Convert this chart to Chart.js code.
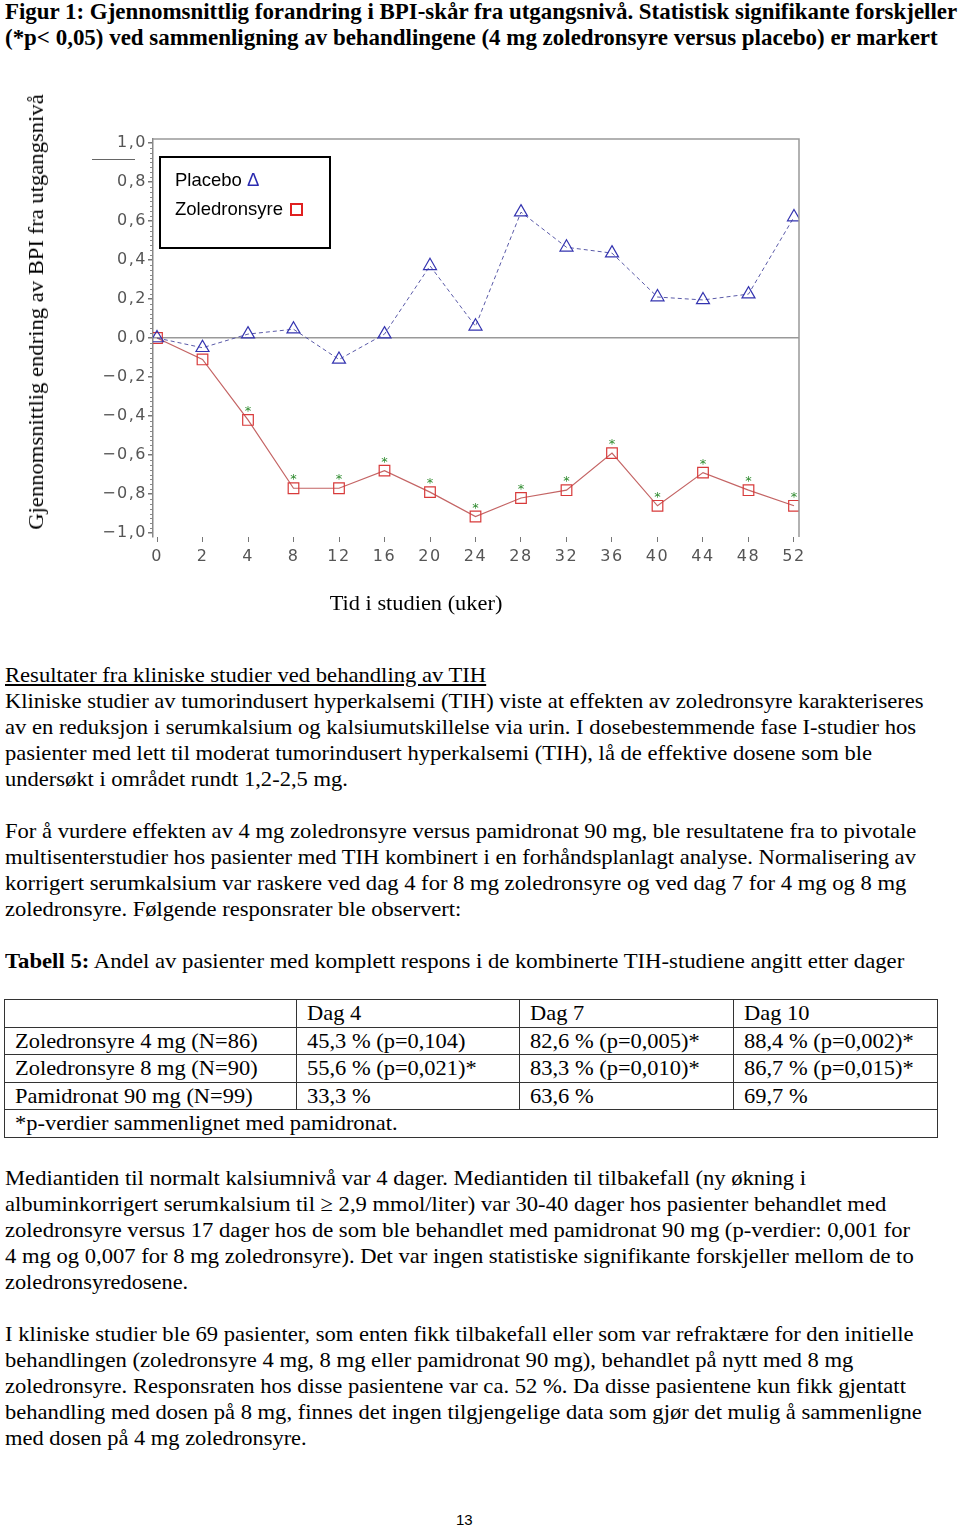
<!DOCTYPE html>
<html>
<head>
<meta charset="utf-8">
<script src="https://cdn.jsdelivr.net/npm/chart.js@4.4.0/dist/chart.umd.min.js"></script>
<style>
body{margin:0;background:#fff;width:960px;height:1529px;position:relative;overflow:hidden;font-family:"Liberation Serif","Times New Roman",serif;color:#000}
.tt{position:absolute;left:5px;white-space:nowrap;font-size:24px;font-weight:bold;line-height:26px;transform-origin:0 50%}
.ln{position:absolute;left:5px;white-space:nowrap;font-size:22px;line-height:26px;transform-origin:0 50%}
#chartBox{position:absolute;left:0;top:60px;width:830px;height:560px}
#legendBox{position:absolute;left:159px;top:156px;width:168px;height:89px;border:2px solid #000;font-family:"Liberation Sans",Arial,sans-serif;font-size:18.5px}
#legendBox div{position:absolute;left:14px;white-space:nowrap;line-height:20px}
.sq{display:inline-block;width:9px;height:9px;border:2px solid #e02020;margin-left:7px;vertical-align:-1px}
.ctr{position:absolute;white-space:nowrap;font-size:22px;line-height:26px}
table{position:absolute;left:4px;top:999px;border-collapse:collapse;font-size:22px}
td{border:1.5px solid #333;height:26.5px;padding:0 0 0 10px;line-height:26px;white-space:nowrap;overflow:hidden}
td span{display:inline-block;transform-origin:0 50%;transform:scaleX(1.02)}
#pg{position:absolute;left:456px;top:1511px;font-family:"Liberation Sans",Arial,sans-serif;font-size:15px}
</style>
</head>
<body>
<div class="tt" style="top:-2px" data-w="952">Figur 1: Gjennomsnittlig forandring i BPI-skår fra utgangsnivå. Statistisk signifikante forskjeller</div>
<div class="tt" style="top:24px" data-w="933">(*p&lt; 0,05) ved sammenligning av behandlingene (4 mg zoledronsyre versus placebo) er markert</div>

<div id="chartBox"><canvas id="bpiChart" width="830" height="560"></canvas></div>
<div style="position:absolute;left:92px;top:159px;width:43px;border-top:1px solid #666"></div>
<div id="legendBox">
  <div style="top:12px">Placebo <span style="color:#2b2bb0">Δ</span></div>
  <div style="top:41px">Zoledronsyre<span class="sq"></span></div>
</div>
<div class="ctr" style="left:36px;top:312px" data-w="435" data-t="translate(-50%,-50%) rotate(-90deg)">Gjennomsnittlig endring av BPI fra utgangsnivå</div>
<div class="ctr" style="left:416px;top:603px" data-w="173" data-t="translate(-50%,-50%)">Tid i studien (uker)</div>

<div class="ln" style="top:662px" data-w="481"><u>Resultater fra kliniske studier ved behandling av TIH</u></div>
<div class="ln" style="top:688px" data-w="919">Kliniske studier av tumorindusert hyperkalsemi (TIH) viste at effekten av zoledronsyre karakteriseres</div>
<div class="ln" style="top:714px" data-w="911">av en reduksjon i serumkalsium og kalsiumutskillelse via urin. I dosebestemmende fase I-studier hos</div>
<div class="ln" style="top:740px" data-w="867">pasienter med lett til moderat tumorindusert hyperkalsemi (TIH), lå de effektive dosene som ble</div>
<div class="ln" style="top:766px" data-w="343">undersøkt i området rundt 1,2-2,5 mg.</div>

<div class="ln" style="top:818px" data-w="911">For å vurdere effekten av 4 mg zoledronsyre versus pamidronat 90 mg, ble resultatene fra to pivotale</div>
<div class="ln" style="top:844px" data-w="911">multisenterstudier hos pasienter med TIH kombinert i en forhåndsplanlagt analyse. Normalisering av</div>
<div class="ln" style="top:870px" data-w="901">korrigert serumkalsium var raskere ved dag 4 for 8 mg zoledronsyre og ved dag 7 for 4 mg og 8 mg</div>
<div class="ln" style="top:896px" data-w="456">zoledronsyre. Følgende responsrater ble observert:</div>

<div class="ln" style="top:948px" data-w="899"><b>Tabell 5:</b> Andel av pasienter med komplett respons i de kombinerte TIH-studiene angitt etter dager</div>

<table>
  <colgroup><col style="width:292px"><col style="width:223px"><col style="width:214px"><col style="width:204px"></colgroup>
  <tr><td></td><td><span>Dag 4</span></td><td><span>Dag 7</span></td><td><span>Dag 10</span></td></tr>
  <tr><td><span>Zoledronsyre 4 mg (N=86)</span></td><td><span>45,3 % (p=0,104)</span></td><td><span>82,6 % (p=0,005)*</span></td><td><span>88,4 % (p=0,002)*</span></td></tr>
  <tr><td><span>Zoledronsyre 8 mg (N=90)</span></td><td><span>55,6 % (p=0,021)*</span></td><td><span>83,3 % (p=0,010)*</span></td><td><span>86,7 % (p=0,015)*</span></td></tr>
  <tr><td><span>Pamidronat 90 mg (N=99)</span></td><td><span>33,3 %</span></td><td><span>63,6 %</span></td><td><span>69,7 %</span></td></tr>
  <tr><td colspan="4"><span>*p-verdier sammenlignet med pamidronat.</span></td></tr>
</table>

<div class="ln" style="top:1165px" data-w="801">Mediantiden til normalt kalsiumnivå var 4 dager. Mediantiden til tilbakefall (ny økning i</div>
<div class="ln" style="top:1191px" data-w="881">albuminkorrigert serumkalsium til ≥ 2,9 mmol/liter) var 30-40 dager hos pasienter behandlet med</div>
<div class="ln" style="top:1217px" data-w="905">zoledronsyre versus 17 dager hos de som ble behandlet med pamidronat 90 mg (p-verdier: 0,001 for</div>
<div class="ln" style="top:1243px" data-w="909">4 mg og 0,007 for 8 mg zoledronsyre). Det var ingen statistiske signifikante forskjeller mellom de to</div>
<div class="ln" style="top:1269px" data-w="183">zoledronsyredosene.</div>

<div class="ln" style="top:1321px" data-w="909">I kliniske studier ble 69 pasienter, som enten fikk tilbakefall eller som var refraktære for den initielle</div>
<div class="ln" style="top:1347px" data-w="848">behandlingen (zoledronsyre 4 mg, 8 mg eller pamidronat 90 mg), behandlet på nytt med 8 mg</div>
<div class="ln" style="top:1373px" data-w="901">zoledronsyre. Responsraten hos disse pasientene var ca. 52 %. Da disse pasientene kun fikk gjentatt</div>
<div class="ln" style="top:1399px" data-w="917">behandling med dosen på 8 mg, finnes det ingen tilgjengelige data som gjør det mulig å sammenligne</div>
<div class="ln" style="top:1425px" data-w="302">med dosen på 4 mg zoledronsyre.</div>

<div id="pg">13</div>

<script>
let weeks = ["0", "2", "4", "8", "12", "16", "20", "24", "28", "32", "36", "40", "44", "48", "52"]
let placebo = [0, -0.05, 0.02, 0.045, -0.11, 0.02, 0.37, 0.06, 0.645, 0.465, 0.435, 0.21, 0.195, 0.225, 0.62]
let zoledronsyre = [0, -0.11, -0.42, -0.77, -0.77, -0.68, -0.79, -0.915, -0.82, -0.78, -0.59, -0.86, -0.69, -0.78, -0.86]
// * = p < 0,05 vs placebo
let significant = [false, false, true, true, true, true, true, true, true, true, true, true, true, true, true]
let yTicks = [-1, -0.8, -0.6, -0.4, -0.2, 0, 0.2, 0.4, 0.6, 0.8, 1]

// squeeze text lines to the widths in the scan
document.querySelectorAll("[data-w]").forEach(el => {
  let k = el.dataset.w / el.offsetWidth
  el.style.transform = (el.dataset.t || "") + " scaleX(" + k + ")"
})

function fmt(v) {
  let s = Math.abs(v).toFixed(1).replace(".", ",")
  return v < -0.001 ? "\u2212" + s : s
}

let framePlugin = {
  id: "frame",
  beforeDraw(chart) {
    chart.ctx.letterSpacing = "1.5px"
  },
  afterDraw(chart) {
    let a = chart.chartArea, ctx = chart.ctx
    let ys = chart.scales.y
    ctx.letterSpacing = "0px"
    ctx.save()
    ctx.strokeStyle = "#999"
    ctx.lineWidth = 1.5
    ctx.beginPath()
    ctx.moveTo(a.left, a.top)
    ctx.lineTo(a.right, a.top)
    ctx.lineTo(a.right, a.bottom)
    ctx.stroke()
    // minor ticks on the y axis
    ctx.strokeStyle = "#888"
    ctx.lineWidth = 1
    ctx.beginPath()
    for (let i = -40; i <= 40; i++) {
      if (i % 8 === 0) continue
      let py = Math.round(ys.getPixelForValue(i * 0.025)) + 0.5
      ctx.moveTo(a.left - 3, py)
      ctx.lineTo(a.left, py)
    }
    ctx.stroke()
    ctx.restore()
  }
}

let starPlugin = {
  id: "stars",
  afterDatasetsDraw(chart) {
    let ctx = chart.ctx
    let meta = chart.getDatasetMeta(1)
    ctx.save()
    ctx.letterSpacing = "0px"
    ctx.fillStyle = "#2e8b2e"
    ctx.font = "13px 'DejaVu Sans'"
    ctx.textAlign = "center"
    ctx.textBaseline = "alphabetic"
    meta.data.forEach((pt, i) => {
      if (significant[i]) ctx.fillText("*", pt.x, pt.y - 5)
    })
    ctx.restore()
  }
}

let tickFont = { family: "'DejaVu Sans'", size: 16 }

new Chart(document.getElementById("bpiChart"), {
  type: "line",
  data: {
    datasets: [{
      label: "Placebo",
      data: placebo.map((v, i) => ({ x: i, y: v })),
      borderColor: "#5a5aa8",
      borderWidth: 1,
      borderDash: [4, 3],
      pointStyle: "triangle",
      pointRadius: 7.5,
      pointBorderColor: "#3434b0",
      pointBackgroundColor: "rgba(0,0,0,0)",
      pointBorderWidth: 1.2,
      tension: 0
    }, {
      label: "Zoledronsyre",
      data: zoledronsyre.map((v, i) => ({ x: i, y: v })),
      borderColor: "#c46464",
      borderWidth: 1.2,
      pointStyle: "rect",
      pointRadius: 7.5,
      pointBorderColor: "#d83a3a",
      pointBackgroundColor: "rgba(0,0,0,0)",
      pointBorderWidth: 1.2,
      tension: 0
    }]
  },
  options: {
    responsive: false,
    animation: false,
    layout: { padding: { left: 0, top: 79, right: 31, bottom: 0 } },
    plugins: { legend: { display: false }, tooltip: { enabled: false } },
    scales: {
      x: {
        type: "linear",
        min: -0.088,
        max: 14.11,
        afterBuildTicks: s => { s.ticks = weeks.map((w, i) => ({ value: i })) },
        afterFit: s => { s.height = 83 },
        ticks: { callback: v => weeks[v], color: "#555", font: tickFont, padding: 5, maxRotation: 0, autoSkip: false },
        grid: { drawOnChartArea: false, drawTicks: true, tickLength: 5, tickColor: "#777" },
        border: { display: false }
      },
      y: {
        min: -1.02,
        max: 1.02,
        afterBuildTicks: s => { s.ticks = yTicks.map(v => ({ value: v })) },
        afterFit: s => { s.width = 153 },
        ticks: { callback: v => fmt(v), color: "#555", font: tickFont, padding: 1 },
        grid: {
          color: c => (c.tick && Math.abs(c.tick.value) < 0.001) ? "#999" : "rgba(0,0,0,0)",
          lineWidth: 1.5,
          tickLength: 5,
          tickColor: "#777"
        },
        border: { display: true, color: "#888", width: 1.5 }
      }
    }
  },
  plugins: [framePlugin, starPlugin]
})
</script>
</body>
</html>
